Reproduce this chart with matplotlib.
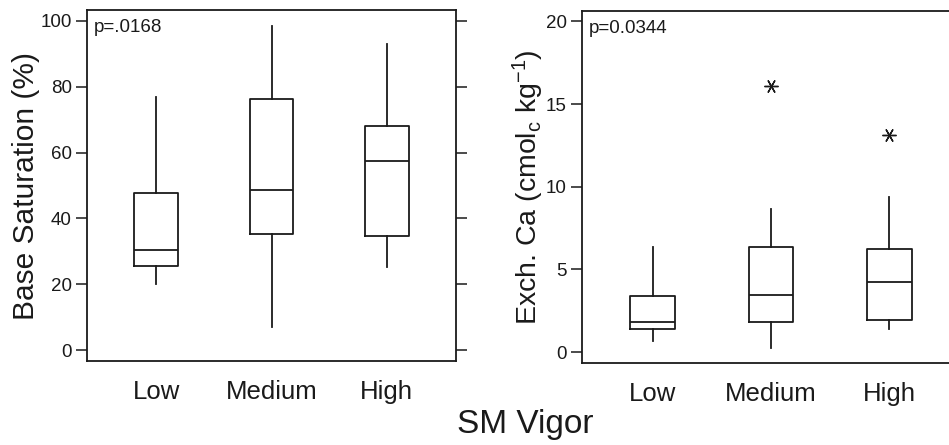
import matplotlib
matplotlib.use("Agg")
import matplotlib.pyplot as plt

plt.rcParams["font.family"] = ["Liberation Sans", "DejaVu Sans"]
plt.rcParams["mathtext.fontset"] = "custom"
plt.rcParams["mathtext.rm"] = "Liberation Sans"
plt.rcParams["mathtext.it"] = "Liberation Sans"
plt.rcParams["mathtext.default"] = "regular"

categories = ["Low", "Medium", "High"]

# Base saturation (%) summary statistics per vigor class
bs_whislo = [20.0, 7.1, 25.3]
bs_q1 = [25.6, 35.4, 34.7]
bs_med = [30.4, 48.7, 57.4]
bs_q3 = [47.6, 76.3, 68.0]
bs_whishi = [77.0, 98.3, 92.9]
bs_fliers = [[], [], []]
bs_yticks = [0, 20, 40, 60, 80, 100]
bs_p = "p=.0168"

# Exchangeable Ca (cmolc/kg) summary statistics per vigor class
ca_whislo = [0.70, 0.24, 1.39]
ca_q1 = [1.41, 1.85, 1.93]
ca_med = [1.83, 3.48, 4.22]
ca_q3 = [3.42, 6.37, 6.23]
ca_whishi = [6.37, 8.67, 9.39]
ca_fliers = [[], [16.09], [13.11]]
ca_yticks = [0, 5, 10, 15, 20]
ca_p = "p=0.0344"

INK = "#1a1a1a"
W, H = 949, 445
fig = plt.figure(figsize=(W / 100, H / 100), dpi=100)


def px_axes(left, top, right, bottom):
    return fig.add_axes([left / W, 1 - bottom / H, (right - left) / W, (bottom - top) / H])


def build_stats(lo, q1, med, q3, hi, fl):
    return [dict(whislo=a, q1=b, med=c, q3=d, whishi=e, fliers=f, label=n)
            for a, b, c, d, e, f, n in zip(lo, q1, med, q3, hi, fl, categories)]


def draw_panel(ax, stats, yticks, ylim, ylabel, ylabel_size, ptext, right_ticks):
    ax.bxp(stats, positions=[1, 2, 3], widths=0.38, showcaps=False,
           patch_artist=False,
           boxprops=dict(color=INK, linewidth=1.3),
           whiskerprops=dict(color=INK, linewidth=1.3),
           medianprops=dict(color=INK, linewidth=1.3),
           flierprops=dict(marker=(6, 2, 90), markersize=10, markeredgecolor=INK,
                           markerfacecolor=INK, markeredgewidth=1.0, linestyle="none"))
    ax.set_xlim(0.4, 3.6)
    ax.set_ylim(*ylim)
    ax.set_yticks(yticks)
    ax.set_xticks([1, 2, 3])
    ax.set_xticklabels(categories)
    ax.tick_params(axis="x", length=0, pad=14, labelsize=18.5, colors=INK)
    ax.tick_params(axis="y", direction="out", length=8, width=1.1, pad=3,
                   labelsize=13.5, colors=INK, right=right_ticks)
    for s in ax.spines.values():
        s.set_color(INK)
        s.set_linewidth(1.3)
    ax.set_ylabel(ylabel, fontsize=ylabel_size, color=INK, labelpad=0)
    ax.text(0.018, 0.975, ptext, transform=ax.transAxes, ha="left", va="top",
            fontsize=13.5, color=INK)


ax1 = px_axes(87, 10, 456, 361)
draw_panel(ax1, build_stats(bs_whislo, bs_q1, bs_med, bs_q3, bs_whishi, bs_fliers),
           bs_yticks, (-3.3, 103.3), "Base Saturation (%)", 21.5, bs_p, True)

ax2 = px_axes(582, 11, 960, 363)
draw_panel(ax2, build_stats(ca_whislo, ca_q1, ca_med, ca_q3, ca_whishi, ca_fliers),
           ca_yticks, (-0.65, 20.62), r"Exch. Ca (cmol$_c$ kg$^{-1}$)", 20.5, ca_p, False)

fig.text(525 / W, 1 - 425 / H, "SM Vigor", ha="center", va="center",
         fontsize=24, color=INK)

fig.savefig("out.png", dpi=100, facecolor="white")
